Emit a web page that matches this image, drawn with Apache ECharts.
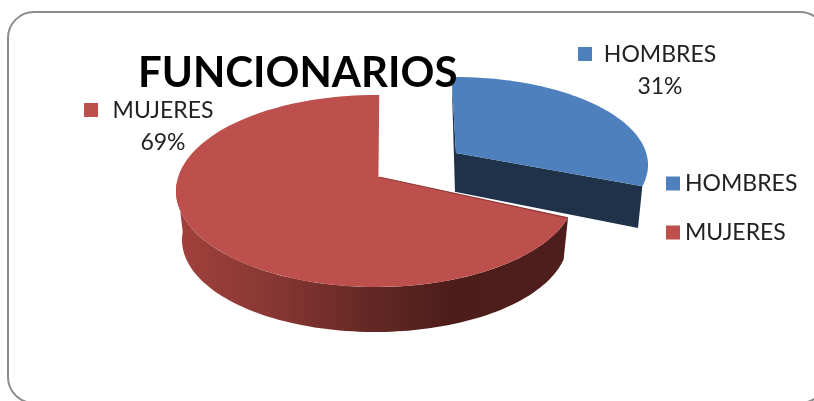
<!DOCTYPE html>
<html><head><meta charset="utf-8">
<script src="https://cdn.jsdelivr.net/npm/echarts@6/dist/echarts.min.js"></script>
<style>html,body{margin:0;padding:0;background:#fff;overflow:hidden}#c{width:814px;height:401px}</style>
</head><body><div id="c"></div>
<script>
const categories = ['HOMBRES', 'MUJERES'];
const shares = [31, 69];
const chartTitle = 'FUNCIONARIOS';
const colors = ['#4d80bc', '#bd4f4c'];

// Projected look of the tilted, exploded pie (one entry per slice)
const looks = [
  { apex:[456,153], top:{c:[455,165],r:[193,88]}, low:{c:[449,206],r:[190,88]},
    warpA:-1, warpB:0.94, side:'#1f3249', label:[660,55], labelDx:-74 },
  { apex:[379,177], top:{c:[376,191],r:[200,96]}, low:{c:[375,240],r:[193,92]},
    warpA:-8.25, warpB:1.026, side:null, label:[163,111], labelDx:-71 }
];
const rad = d => d * Math.PI / 180;
const pt = (e, phi) => [e.c[0] + e.r[0]*Math.sin(rad(phi)), e.c[1] - e.r[1]*Math.cos(rad(phi))];
function arc(e, a, b) {
  const out = [], n = 90;
  for (let i = 0; i <= n; i++) out.push(pt(e, a + (b - a) * i / n));
  return out;
}
const total = shares.reduce((s, v) => s + v, 0);
const startOf = i => shares.slice(0, i).reduce((s, v) => s + v, 0) / total * 360;

function renderSlice(i, color) {
  const L = looks[i];
  const t0 = startOf(i), t1 = startOf(i + 1);
  const p0 = L.warpA + L.warpB * t0, p1 = L.warpA + L.warpB * t1;
  const topArc = arc(L.top, p0, p1);
  const kids = [];
  if (i === 0) {
    const a = topArc[0], b = topArc[topArc.length - 1];
    const lowEnd = [638, 228], lowApex = [456, 192];
    kids.push({type:'polygon', shape:{points:[L.apex, b, lowEnd, lowApex]}, style:{fill:L.side}});
    kids.push({type:'polygon', shape:{points:[a, L.apex, lowApex, [455,192]]}, style:{fill:L.side}});
  } else {
    const edge = 275;
    const sideTop = arc(L.top, p0, edge);
    const sideLow = arc(L.low, edge, p0 - 4);
    kids.push({type:'polygon', shape:{points:sideTop.concat(sideLow)}, style:{
      fill:new echarts.graphic.LinearGradient(0,0,1,0,[
        {offset:0,color:'#a2413d'},{offset:0.25,color:'#873733'},{offset:0.48,color:'#662925'},
        {offset:0.7,color:'#4d1d1a'},{offset:1,color:'#4f1e1c'}])}});
  }
  kids.push({type:'polygon', shape:{points:[L.apex].concat(topArc)}, style:{fill:color}});
  if (i === 1) {
    const a = topArc[0], b = topArc[topArc.length - 1];
    kids.push({type:'polyline', shape:{points:[L.apex, a]}, style:{stroke:'#8e3a37', lineWidth:1.2, fill:null}});
    kids.push({type:'polyline', shape:{points:[L.apex, b]}, style:{stroke:'#fff', lineWidth:1.2, fill:null}});
  }
  const pct = Math.round(shares[i] / total * 100) + '%';
  kids.push({type:'rect', shape:{x:L.label[0]+L.labelDx-8, y:L.label[1]-8, width:14, height:14}, style:{fill:color}});
  kids.push({type:'text', style:{x:L.label[0], y:L.label[1], text:categories[i], fill:'#222',
    font:'23px Lato', align:'center', verticalAlign:'middle'}});
  kids.push({type:'text', style:{x:L.label[0], y:L.label[1]+32, text:pct, fill:'#222',
    font:'23px Lato', align:'center', verticalAlign:'middle'}});
  return {type:'group', children:kids};
}

const chart = echarts.init(document.getElementById('c'), null, {renderer:'canvas'});
chart.setOption({
  animation:false,
  backgroundColor:'#fff',
  graphic:[{type:'rect', z:-1, shape:{x:8,y:12,width:818,height:391,r:26},
    style:{fill:'#fff', stroke:'#8c8c8c', lineWidth:2}}],
  title:{text:chartTitle, left:133, top:47, z:20, textStyle:{fontFamily:'Lato', fontWeight:'bold', fontSize:42, color:'#000'}},
  legend:{orient:'vertical', left:666, top:172, icon:'rect', itemWidth:14, itemHeight:14, itemGap:26,
    data:categories, textStyle:{fontFamily:'Lato', fontSize:23, color:'#222'}, padding:0},
  series:categories.map((name, i) => ({
    type:'custom', name, coordinateSystem:'none', silent:true,
    itemStyle:{color:colors[i]}, z:i+2,
    data:[shares[i]],
    renderItem:() => renderSlice(i, colors[i])
  }))
});
</script></body></html>
